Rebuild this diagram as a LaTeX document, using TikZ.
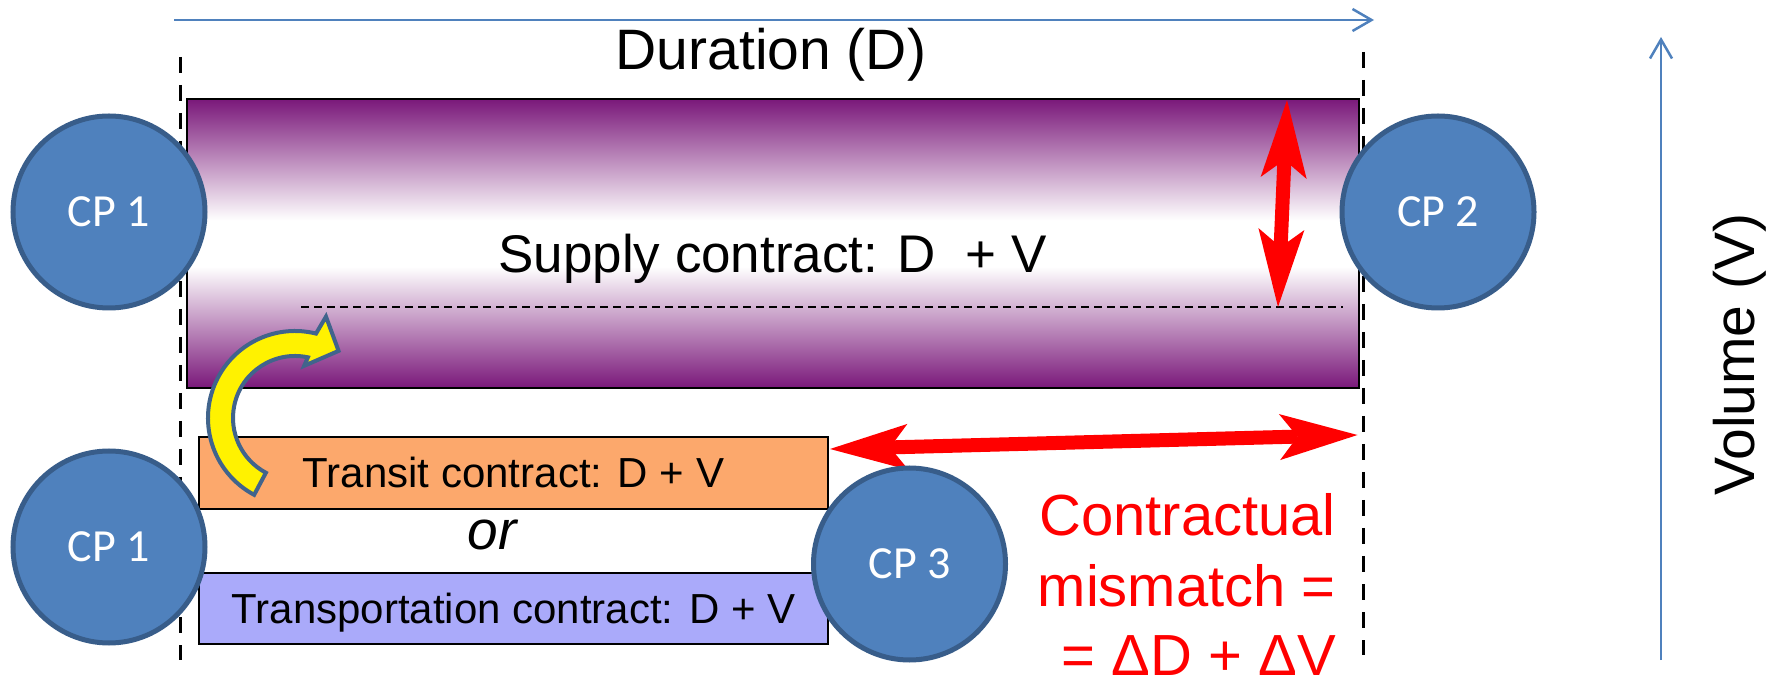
\documentclass[tikz,border=0pt]{standalone}
\usepackage{fontspec}
\setmainfont{Liberation Sans}
\newfontfamily\cpfont{Carlito}
\usetikzlibrary{arrows.meta}
\definecolor{axisblue}{RGB}{79,129,189}
\definecolor{cpfill}{RGB}{79,129,189}
\definecolor{cpedge}{RGB}{56,93,138}
\definecolor{supplypurple}{RGB}{122,24,122}
\definecolor{transitorange}{RGB}{252,168,108}
\definecolor{transportblue}{RGB}{170,170,250}
\definecolor{yellowedge}{RGB}{65,100,140}
\pgfdeclareverticalshading{supplyshade}{100bp}{color(0bp)=(supplypurple); color(25bp)=(supplypurple); color(46bp)=(white); color(54bp)=(white); color(75bp)=(supplypurple); color(100bp)=(supplypurple)}
\begin{document}
\begin{tikzpicture}[x=1pt,y=1pt,
  cp/.style={circle, minimum size=192pt, inner sep=0pt, fill=cpfill, draw=cpedge, line width=5pt, text=white, font=\cpfont\fontsize{46}{55}\selectfont},
  axis/.style={draw=axisblue, line width=2.5pt, -{Straight Barb[length=19pt,width=22pt]}},
  boundary/.style={draw=black, line width=3pt, dash pattern=on 16pt off 12pt},
  redarr/.style={draw=red, line width=14pt, arrows={Stealth[length=78pt,width=46pt,inset=18pt,line width=0pt]-Stealth[length=78pt,width=46pt,inset=18pt,line width=0pt]}},
  contractbox/.style={draw=black, line width=2pt, minimum width=629pt, minimum height=72pt, inner sep=0pt, text height=30pt, text depth=0pt, font=\fontsize{42}{50}\selectfont},
  bigtext/.style={font=\fontsize{57}{68}\selectfont, inner sep=0pt},
  redtext/.style={text=red, font=\fontsize{58}{70}\selectfont, inner sep=0pt, anchor=base east}]

\useasboundingbox (0,0) rectangle (1779,680);

% axes
\coordinate (dl0) at (174,660); \coordinate (dl1) at (1374,660);
\draw[axis] (dl0) -- (dl1);
\coordinate (vl0) at (1661,20); \coordinate (vl1) at (1661,643);
\draw[axis] (vl0) -- (vl1);

% boundaries
\coordinate (bl0) at (180,623); \coordinate (bl1) at (180,20);
\coordinate (br0) at (1363,628); \coordinate (br1) at (1363,25);
\draw[boundary] (bl0) -- (bl1);
\draw[boundary] (br0) -- (br1);

% supply contract
\node[draw=black, line width=2pt, minimum width=1171.5pt, minimum height=289pt, inner sep=0pt,
      shading=supplyshade] (supply) at (772.75,436.5) {};
\coordinate (dv0) at (301,373); \coordinate (dv1) at (1343,373);
\draw[line width=1.5pt, dash pattern=on 8pt off 5pt] (dv0) -- (dv1);
\node[bigtext, font=\fontsize{53}{64}\selectfont, anchor=base] (supplytext) at (772.5,407) {Supply contract: D\ \ + V};
\node[bigtext, anchor=base] (duration) at (771,610) {Duration (D)};

\coordinate (vtop) at (1287,580); \coordinate (vbot) at (1278,373);
\draw[redarr] (vbot) -- (vtop);

% transit / transportation
\node[contractbox, fill=transitorange] (transit) at (513.5,207) {Transit contract: D + V};
\node[contractbox, fill=transportblue, minimum height=71pt] (transport) at (513.5,71.5) {Transportation contract: D + V};
\node[font=\itshape\fontsize{55}{66}\selectfont, inner sep=0pt, anchor=base] (ortext) at (492,130) {or};

\coordinate (hl) at (830,231); \coordinate (hr) at (1357.5,245);
\draw[redarr] (hl) -- (hr);

% yellow curved arrow
\begin{scope}[shift={(295,262)}]
\draw[fill=yellow, draw=yellowedge, line width=4pt, line join=miter]
  (242:87) arc[start angle=242, end angle=76, radius=87] -- (73:106) -- (57:80) -- (80:53) -- (78:62)
  arc[start angle=78, end angle=242, radius=62] -- cycle;
\end{scope}

% counterparties
\node[cp] (cp1a) at (109,468) {CP 1};
\node[cp] (cp2) at (1438,468) {CP 2};
\node[cp] (cp1b) at (109,133) {CP 1};
\node[cp] (cp3) at (909.5,116) {CP 3};

% labels
\node[redtext] (mm1) at (1336,144) {Contractual};
\node[redtext] (mm2) at (1336,74) {mismatch =};
\node[redtext] (mm3) at (1336,5) {= ΔD + ΔV};
\node[bigtext, rotate=90, anchor=base] (volume) at (1754,325.5) {Volume (V)};
\end{tikzpicture}
\end{document}
